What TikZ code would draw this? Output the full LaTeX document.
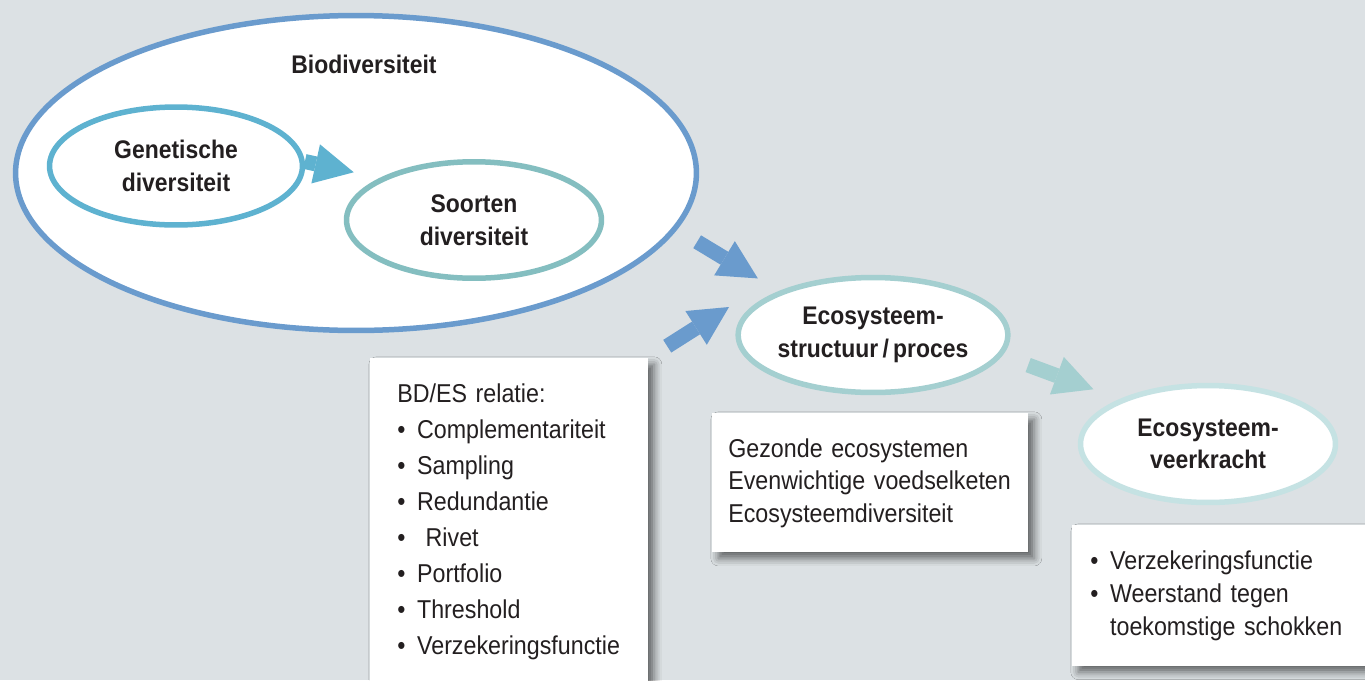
\documentclass[tikz,border=0pt]{standalone}
\usepackage{fontspec}
\setmainfont[FakeStretch=0.9]{Liberation Sans}
\usetikzlibrary{shapes.geometric, arrows.meta, shadows.blur}

\definecolor{bggrey}{HTML}{DCE1E4}
\definecolor{bioblue}{HTML}{6A9BCD}
\definecolor{genblue}{HTML}{5EB2D0}
\definecolor{soortteal}{HTML}{84BEC0}
\definecolor{structeal}{HTML}{A4CFD0}
\definecolor{veerteal}{HTML}{C5E2E3}
\definecolor{inkgrey}{HTML}{231F20}

\hyphenpenalty=10000
\newcommand{\bullt}{\textbullet\nobreak\hspace{0.45em}}

\tikzset{
    oval/.style={ellipse, draw=#1, fill=white, line width=0.11cm, inner sep=0pt,
        align=center, text=inkgrey, font=\bfseries\fontsize{14.5}{18.5}\selectfont},
    infobox/.style={rectangle, fill=white, anchor=north west, align=left, inner ysep=0.5cm,
        text=inkgrey, font=\fontsize{14.7}{#1}\selectfont,
        blur shadow={shadow xshift=0.12cm, shadow yshift=-0.12cm, shadow blur radius=0.15cm,
            shadow blur extra rounding=0pt, shadow opacity=55}},
    flow/.style={draw=#1, line width=0.3cm,
        -{Triangle[length=0.78cm 0 1, width=0.8cm 0 1, line width=0pt 0 0]}}
}

\begin{document}
\begin{tikzpicture}[x=0.02cm, y=-0.02cm]
        \fill[bggrey] (0,0) rectangle (1365,680);
        \useasboundingbox (0,0) rectangle (1365,680);
        \clip (0,0) rectangle (1365,680);

        % ovals
        \node[oval=bioblue, minimum width=13.62cm, minimum height=6.3cm] (bio) at (356,173) {};
        \node[text=inkgrey, font=\bfseries\fontsize{14.5}{18.5}\selectfont] (biotitle) at (364,64) {Biodiversiteit};
        \node[oval=genblue, minimum width=5.06cm, minimum height=2.36cm] (gen) at (176,166) {Genetische\\diversiteit};
        \node[oval=soortteal, minimum width=5.1cm, minimum height=2.33cm] (soort) at (474,220) {Soorten\\diversiteit};
        \node[oval=structeal, minimum width=5.1cm, minimum height=2.3cm] (struc) at (873,335) {Ecosysteem-\\structuur\,/\,proces};
        \node[oval=veerteal, minimum width=5.1cm, minimum height=2.34cm] (veer) at (1208,444) {Ecosysteem-\\veerkracht};

        % boxes
        \node[infobox=20.5pt, text width=4.48cm, inner xsep=0.54cm] (bdes) at (370,358) {BD/ES relatie:\\
            \bullt Complementariteit\\
            \bullt Sampling\\
            \bullt Redundantie\\
            \bullt\ Rivet\\
            \bullt Portfolio\\
            \bullt Threshold\\
            \bullt Verzekeringsfunctie};
        \node[infobox=18.5pt, text width=5.68cm, inner xsep=0.32cm] (gezond) at (712,413) {Gezonde ecosystemen\\
            Evenwichtige voedselketen\\
            Ecosysteemdiversiteit};
        \node[infobox=19pt, text width=5.34cm, inner xsep=0.36cm] (verzek) at (1072,525) {\bullt Verzekeringsfunctie\\
            \bullt Weerstand tegen\\
            \phantom{\bullt}toekomstige schokken};

        % arrows
        \coordinate (bdaim) at (729,307);
        \draw[flow=genblue, shorten >=0.53cm] (gen.2.5) -- (soort.156.5);
        \draw[flow=bioblue, shorten <=0.47cm, shorten >=0.49cm] (bio.-10) -- (struc.155.3);
        \draw[flow=bioblue, shorten <=0.44cm] (bdes.north east) -- (bdaim);
        \draw[flow=structeal, shorten <=0.55cm, shorten >=0.56cm] (struc.-9.4) -- (veer.153.3);
    \end{tikzpicture}
\end{document}
